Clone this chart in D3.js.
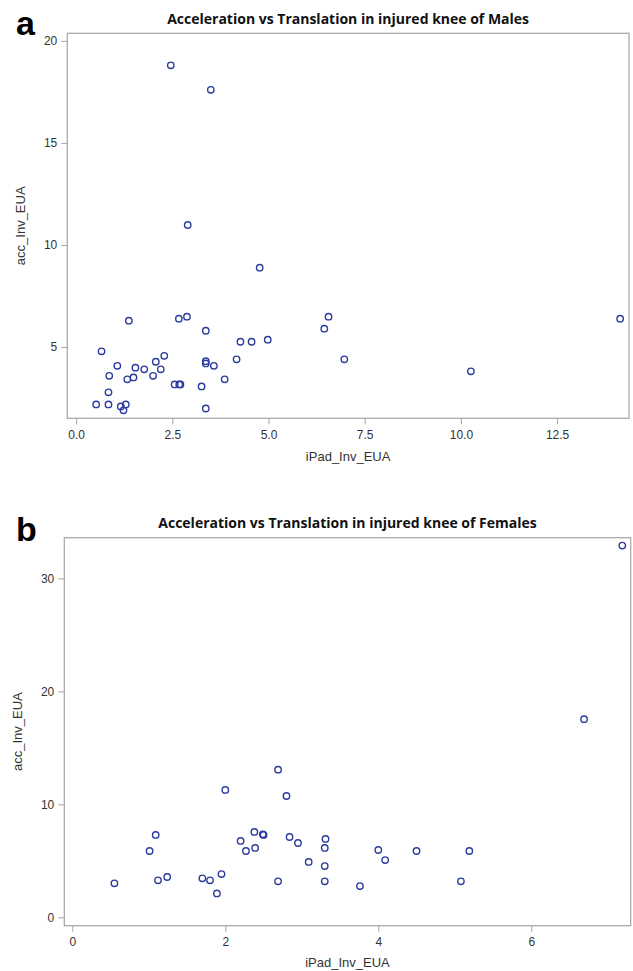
<!DOCTYPE html>
<html>
<head>
<meta charset="utf-8">
<script src="https://cdn.jsdelivr.net/npm/d3@7"></script>
<style>
    body { margin: 0; background: #fff; }
    svg { display: block; font-family: "Liberation Sans", Arial, sans-serif; }
    .frame { fill: none; stroke: #a3a3a3; stroke-width: 1.2; }
    .axis path { display: none; }
    .axis line { stroke: #a3a3a3; }
    .axis text { fill: #333; font-size: 12px; font-family: "Liberation Sans", Arial, sans-serif; }
    .axisTitle { fill: #333; font-size: 13px; }
    .chartTitle { fill: #111; font-size: 14px; font-weight: bold; font-family: "Open Sans", "Liberation Sans", sans-serif; }
    .panelLabel { fill: #000; font-size: 34px; font-weight: bold; }
    .pt { fill: none; stroke: #2c3c9e; stroke-width: 1.4; }
</style>
</head>
<body>
<svg id="chart" width="633" height="971"></svg>
<script>
/*------------------- data -------------------*/
// panel a : males
const maleIpad = [0.52, 0.66, 0.84, 0.84, 0.86, 1.07, 1.16, 1.23, 1.29, 1.33, 1.37, 1.49, 1.54, 1.77,
    2.00, 2.07, 2.20, 2.29, 2.56, 2.68, 2.71, 2.67, 2.88, 3.26, 3.37, 3.37, 3.37, 3.37, 3.58, 3.86,
    4.17, 4.27, 4.56, 4.98, 6.45, 6.56, 6.97, 2.46, 3.50, 2.90, 4.77, 10.26, 14.14];
const maleAcc = [2.19, 4.79, 2.19, 2.78, 3.59, 4.08, 2.09, 1.90, 2.19, 3.42, 6.29, 3.51, 3.99, 3.91,
    3.59, 4.28, 3.91, 4.57, 3.17, 3.17, 3.17, 6.39, 6.49, 3.07, 5.80, 4.31, 4.20, 1.99, 4.08, 3.42,
    4.40, 5.26, 5.26, 5.36, 5.90, 6.49, 4.40, 18.8, 17.6, 10.98, 8.89, 3.81, 6.39];

// panel b : females
const femaleIpad = [0.55, 1.01, 1.09, 1.12, 1.24, 1.70, 1.80, 1.89, 1.95, 2.00, 2.20, 2.27, 2.38, 2.39,
    2.49, 2.50, 2.69, 2.69, 2.80, 2.84, 2.95, 3.09, 3.31, 3.30, 3.30, 3.30, 3.76, 4.00, 4.09,
    4.50, 5.19, 5.08, 6.69, 7.19];
const femaleAcc = [3.01, 5.87, 7.29, 3.28, 3.57, 3.45, 3.28, 2.12, 3.83, 11.28, 6.76, 5.87, 7.56, 6.14,
    7.35, 7.29, 13.07, 3.19, 10.74, 7.11, 6.58, 4.90, 6.94, 6.14, 4.54, 3.19, 2.77, 5.96, 5.07,
    5.87, 5.87, 3.19, 17.54, 32.9];

// tick values
const maleXTicks = [0, 2.5, 5, 7.5, 10, 12.5];
const maleYTicks = [5, 10, 15, 20];
const femaleXTicks = [0, 2, 4, 6];
const femaleYTicks = [0, 10, 20, 30];

const xLabel = "iPad_Inv_EUA";
const yLabel = "acc_Inv_EUA";

/*------------------- panels -------------------*/
const svg = d3.select("#chart");

const panels = [
    {
        label: "a",
        title: "Acceleration vs Translation in injured knee of Males",
        xs: maleIpad, ys: maleAcc,
        xDomain: [-0.23, 14.37], yDomain: [1.51, 20.37],
        left: 67.3, right: 629, top: 33.3, bottom: 418.3,
        xTicks: maleXTicks, yTicks: maleYTicks, xFmt: d3.format(".1f"), yFmt: d3.format("d"),
        labelY: 35, titleY: 24, yTitleX: 25, xTitleY: 461
    },
    {
        label: "b",
        title: "Acceleration vs Translation in injured knee of Females",
        xs: femaleIpad, ys: femaleAcc,
        xDomain: [-0.105, 7.30], yDomain: [-0.74, 33.6],
        left: 64.3, right: 630.7, top: 537.7, bottom: 925.7,
        xTicks: femaleXTicks, yTicks: femaleYTicks, xFmt: d3.format("d"), yFmt: d3.format("d"),
        labelY: 541, titleY: 528, yTitleX: 22, xTitleY: 967
    }
];

panels.forEach(p => {
    const g = svg.append("g");

    let x = d3.scaleLinear().domain(p.xDomain).range([p.left, p.right]);
    let y = d3.scaleLinear().domain(p.yDomain).range([p.bottom, p.top]);

    // plot frame
    g.append("rect")
        .attr("class", "frame")
        .attr("x", p.left).attr("y", p.top)
        .attr("width", p.right - p.left)
        .attr("height", p.bottom - p.top);

    g.append("g")
        .attr("class", "axis")
        .attr("transform", "translate(0," + p.bottom + ")")
        .call(d3.axisBottom(x).tickValues(p.xTicks).tickFormat(p.xFmt).tickSize(6).tickPadding(6));

    g.append("g")
        .attr("class", "axis")
        .attr("transform", "translate(" + p.left + ",0)")
        .call(d3.axisLeft(y).tickValues(p.yTicks).tickFormat(p.yFmt).tickSize(6).tickPadding(4));

    // points
    g.selectAll("circle")
        .data(d3.zip(p.xs, p.ys))
        .enter()
        .append("circle")
        .attr("class", "pt")
        .attr("cx", d => x(d[0]))
        .attr("cy", d => y(d[1]))
        .attr("r", 3.2);

    // titles
    g.append("text")
        .attr("class", "chartTitle")
        .attr("x", (p.left + p.right) / 2)
        .attr("y", p.titleY)
        .style("text-anchor", "middle")
        .text(p.title);

    g.append("text")
        .attr("class", "panelLabel")
        .attr("x", 16)
        .attr("y", p.labelY)
        .text(p.label);

    g.append("text")
        .attr("class", "axisTitle")
        .attr("x", (p.left + p.right) / 2)
        .attr("y", p.xTitleY)
        .style("text-anchor", "middle")
        .text(xLabel);

    g.append("text")
        .attr("class", "axisTitle")
        .attr("transform", "translate(" + p.yTitleX + "," + ((p.top + p.bottom) / 2) + ") rotate(-90)")
        .style("text-anchor", "middle")
        .text(yLabel);
});
</script>
</body>
</html>
